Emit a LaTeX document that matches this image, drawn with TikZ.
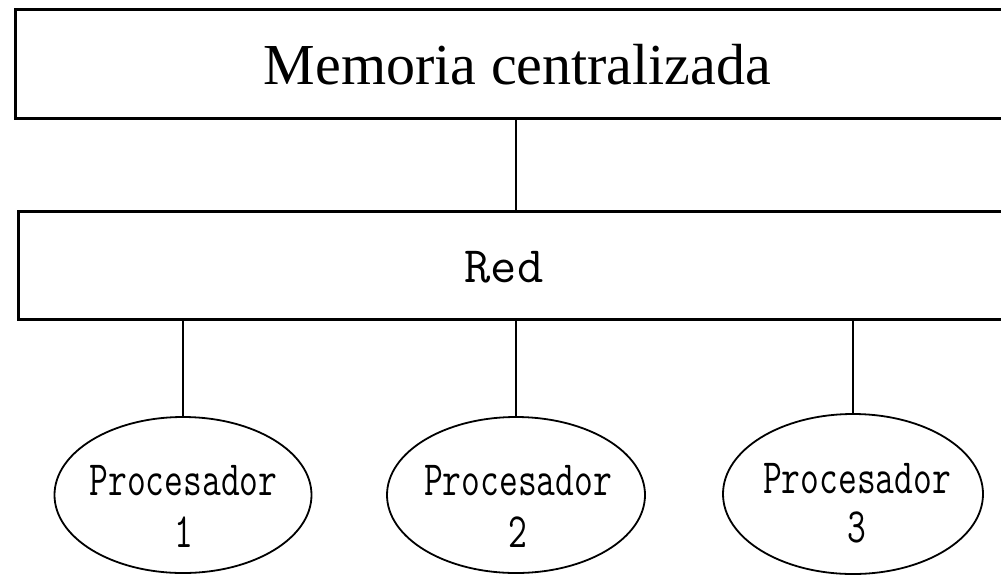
\documentclass[tikz,border=0pt]{standalone}
\usepackage{fontspec}
\setmainfont{Liberation Serif}
\usetikzlibrary{shapes.geometric}
\tikzset{
  boxst/.style={draw=black, line width=3pt, rectangle, inner sep=0pt, minimum width=1002pt},
  linkst/.style={draw=black, line width=2pt},
  procst/.style={draw=black, line width=1.8pt, ellipse, inner sep=0pt},
  memtext/.style={inner sep=0pt, font=\fontsize{58}{60}\selectfont},
  redtext/.style={inner sep=0pt, font=\ttfamily\fontsize{51}{54}\selectfont},
  proctext/.style={inner sep=0pt, anchor=base, font=\ttfamily\fontsize{36.5}{38}\selectfont}
}
\newcommand{\tallp}[1]{\scalebox{1}[1.35]{#1}}
\begin{document}
\begin{tikzpicture}[x=1pt,y=-1pt]
\useasboundingbox (0,0) rectangle (1001,574);
\clip (0,0) rectangle (1001,574);
\fill[white] (0,0) rectangle (1001,574);

\node[boxst, minimum height=108.5pt] (mem) at (516,63.75) {};
\node[boxst, minimum width=996pt, minimum height=108pt] (red) at (516,265) {};

\node[memtext] (memlbl) at (517.5,65) {Memoria centralizada};
\node[redtext] (redlbl) at (504,267) {Red};

\node[procst, minimum width=257pt, minimum height=156pt] (p1) at (183,495) {};
\node[procst, minimum width=258pt, minimum height=156pt] (p2) at (516,495) {};
\node[procst, minimum width=260pt, minimum height=160pt] (p3) at (853,494) {};

\node[proctext] (p1a) at (183.5,495) {\tallp{Procesador}};
\node[proctext] (p1b) at (183.5,547) {\tallp{1}};
\node[proctext] (p2a) at (518,495) {\tallp{Procesador}};
\node[proctext] (p2b) at (518,547) {\tallp{2}};
\node[proctext] (p3a) at (857,493) {\tallp{Procesador}};
\node[proctext] (p3b) at (857,542) {\tallp{3}};

\draw[linkst] (mem.south) -- (red.north);
\draw[linkst] (red.south -| p1.north) -- (p1.north);
\draw[linkst] (red.south -| p2.north) -- (p2.north);
\draw[linkst] (red.south -| p3.north) -- (p3.north);
\end{tikzpicture}
\end{document}
